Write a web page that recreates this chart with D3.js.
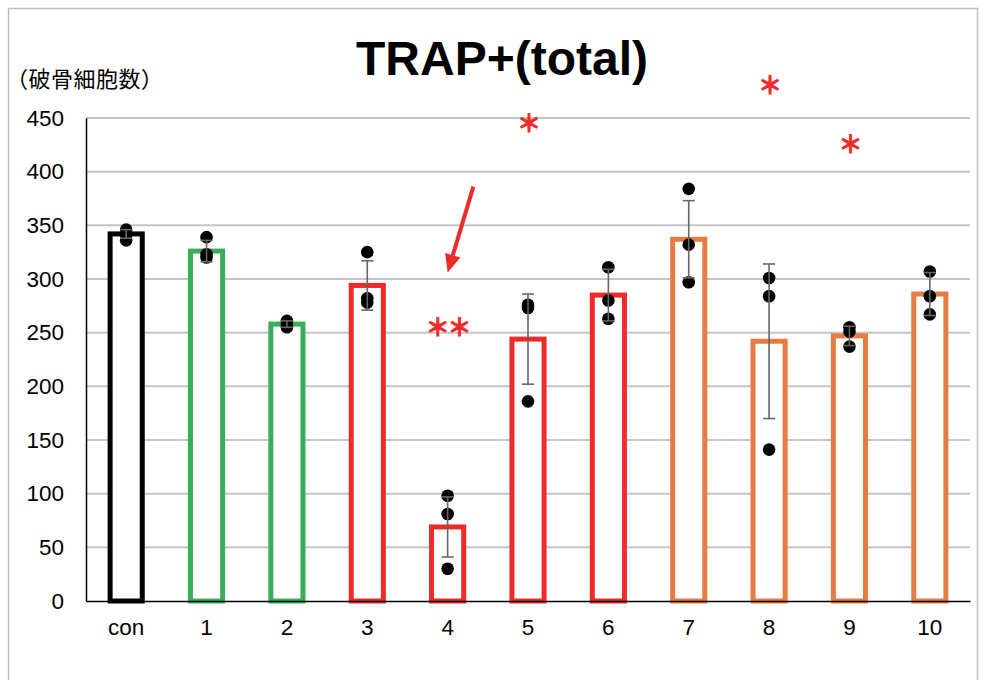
<!DOCTYPE html>
<html><head><meta charset="utf-8">
<script src="https://cdn.jsdelivr.net/npm/d3@7"></script>
<style>body{margin:0;background:#fff}svg{display:block}</style>
</head><body>
<svg id="c" width="987" height="680"></svg>
<script>
const categories = ["con","1","2","3","4","5","6","7","8","9","10"];
const means = [342, 326, 258, 294, 69, 244, 285, 337, 242, 247, 286];
const sds = [4, 10, 3, 23, 28, 42, 24, 36, 72, 9, 20];
const points = [
  [346, 341, 336],
  [339, 323, 320],
  [261, 258, 255],
  [325, 282, 278],
  [98, 81, 30],
  [276, 273, 186],
  [311, 280, 263],
  [384, 332, 297],
  [301, 284, 141],
  [255, 251, 237],
  [307, 284, 267]
];
const barColors = ["#000000","#3aae5a","#3aae5a","#ee2a2a","#ee2a2a","#ee2a2a","#ee2a2a","#e87b43","#e87b43","#e87b43","#e87b43"];
const yTicks = [0,50,100,150,200,250,300,350,400,450];
const stars = [
  {cat:"4", y:257, text:"＊＊"},
  {cat:"5", y:447, text:"＊"},
  {cat:"8", y:482, text:"＊"},
  {cat:"9", y:427, text:"＊"}
];
const arrowData = {cat:"4", fromDx:0.32, fromY:386, toDx:0, toY:306};
const title = "TRAP+(total)";
const yLabel = "（破骨細胞数）";

const svg = d3.select("#c");
const FONT = "'Liberation Sans', Arial, sans-serif";

// frame
svg.append("rect").attr("x",8.5).attr("y",8.5).attr("width",969).attr("height",700)
  .attr("fill","#fff").attr("stroke","#bfbfbf").attr("stroke-width",1.5);

const x = d3.scaleBand().domain(categories).range([86,970]).paddingInner(0.6).paddingOuter(0.3);
const y = d3.scaleLinear().domain([0,450]).range([601,118]);

// gridlines
svg.append("g").selectAll("line").data(yTicks.filter(t=>t>0)).join("line")
  .attr("x1",86).attr("x2",970).attr("y1",d=>y(d)).attr("y2",d=>y(d))
  .attr("stroke","#c4c4c4").attr("stroke-width",2);

// y axis
const yAxis = svg.append("g").attr("transform","translate(86,0)")
  .call(d3.axisLeft(y).tickValues(yTicks).tickSize(0).tickPadding(22));
yAxis.select(".domain").attr("stroke","#000").attr("stroke-width",1.5);
yAxis.selectAll("text").attr("font-family",FONT).attr("font-size",22.5).attr("fill","#000");

// bars
svg.append("g").selectAll("rect").data(categories).join("rect")
  .attr("x",d=>x(d)).attr("width",x.bandwidth())
  .attr("y",(d,i)=>y(means[i])).attr("height",(d,i)=>y(0)-y(means[i]))
  .attr("fill","#fff").attr("stroke",(d,i)=>barColors[i]).attr("stroke-width",5);

// x axis
const xAxis = svg.append("g").attr("transform","translate(0,601)")
  .call(d3.axisBottom(x).tickSize(0).tickPadding(18));
xAxis.select(".domain").attr("stroke","#000").attr("stroke-width",1.5);
xAxis.selectAll("text").attr("font-family",FONT).attr("font-size",22.5).attr("fill","#000");

// dots
const cx = d => x(d) + x.bandwidth()/2;
const dotG = svg.append("g");
categories.forEach((c,i)=>{
  dotG.selectAll(null).data(points[i]).join("circle")
    .attr("cx",cx(c)).attr("cy",v=>y(v)).attr("r",6.3).attr("fill","#000");
});

// error bars
const eg = svg.append("g").attr("stroke","#666").attr("stroke-width",1.6);
categories.forEach((c,i)=>{
  const X = cx(c), hi = y(means[i]+sds[i]), lo = y(means[i]-sds[i]);
  eg.append("line").attr("x1",X).attr("x2",X).attr("y1",hi).attr("y2",lo);
  eg.append("line").attr("x1",X-6).attr("x2",X+6).attr("y1",hi).attr("y2",hi);
  eg.append("line").attr("x1",X-6).attr("x2",X+6).attr("y1",lo).attr("y2",lo);
});

// stars
svg.append("g").selectAll("text").data(stars).join("text")
  .attr("x",d=>cx(d.cat)).attr("y",d=>y(d.y))
  .attr("text-anchor","middle").attr("dominant-baseline","central")
  .attr("font-family","'Noto Sans CJK JP', sans-serif").attr("font-size",24)
  .attr("font-weight",700)
  .attr("letter-spacing",-2)
  .attr("stroke","#ee2a2a").attr("stroke-width",0.9)
  .attr("fill","#ee2a2a").text(d=>d.text);

// arrow
{
  const x1 = cx(arrowData.cat) + arrowData.fromDx*x.step(), y1 = y(arrowData.fromY);
  const x2 = cx(arrowData.cat) + arrowData.toDx*x.step(), y2 = y(arrowData.toY);
  const ang = Math.atan2(y2-y1, x2-x1);
  const L = 18, W = 8;
  const bx = x2 - L*Math.cos(ang), by = y2 - L*Math.sin(ang);
  svg.append("line").attr("x1",x1).attr("y1",y1).attr("x2",bx).attr("y2",by)
    .attr("stroke","#ee2a2a").attr("stroke-width",4);
  const px = -Math.sin(ang), py = Math.cos(ang);
  svg.append("path").attr("d",`M${x2},${y2}L${bx+W*px},${by+W*py}L${bx-W*px},${by-W*py}Z`)
    .attr("fill","#ee2a2a");
}

// title
svg.append("text").attr("x",502).attr("y",75).attr("text-anchor","middle")
  .attr("font-family",FONT).attr("font-weight","bold").attr("font-size",48)
  .attr("fill","#000").text(title);

// y label
svg.append("text").attr("x",6).attr("y",87)
  .attr("font-family","'Noto Sans CJK JP', sans-serif").attr("font-size",22)
  .attr("letter-spacing",0.5).attr("fill","#000").text(yLabel);
</script>
</body></html>
